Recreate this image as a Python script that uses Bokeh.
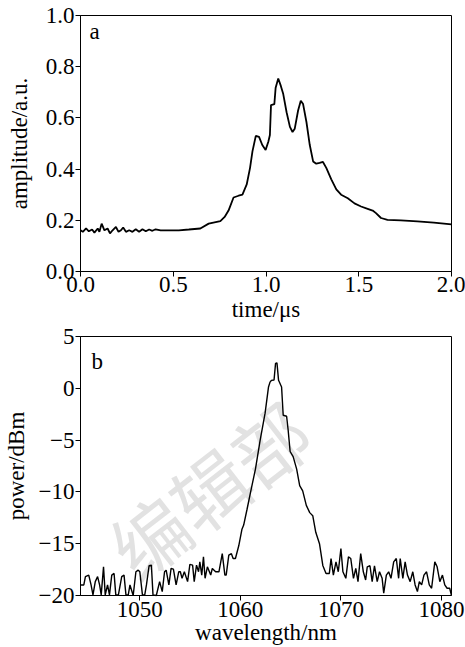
from bokeh.plotting import figure
from bokeh.layouts import column
from bokeh.models import FixedTicker, Label, Range1d
from bokeh.embed import file_html
from bokeh.resources import INLINE

# ---------------- data ----------------
# panel a: pulse waveform
time_us = [0.0, 0.0125, 0.030, 0.045, 0.0625, 0.075, 0.093, 0.102, 0.114, 0.129,
           0.146, 0.159, 0.173, 0.191, 0.205, 0.218, 0.230, 0.245, 0.2625, 0.280,
           0.298, 0.316, 0.334, 0.352, 0.370, 0.3875, 0.405, 0.432, 0.477, 0.530,
           0.584, 0.646, 0.691, 0.754, 0.777, 0.798, 0.825, 0.852, 0.873, 0.896,
           0.914, 0.927, 0.945, 0.9625, 0.98, 0.998, 1.0125, 1.021, 1.027, 1.045,
           1.052, 1.066, 1.080, 1.093, 1.111, 1.129, 1.143, 1.155, 1.173, 1.1875,
           1.2, 1.218, 1.236, 1.254, 1.271, 1.289, 1.307, 1.325, 1.352, 1.379,
           1.405, 1.441, 1.477, 1.5125, 1.548, 1.575, 1.593, 1.62, 1.655, 1.727,
           1.816, 1.905, 2.0]
amplitude = [0.161, 0.155, 0.168, 0.157, 0.164, 0.152, 0.168, 0.155, 0.187, 0.161,
             0.168, 0.149, 0.161, 0.174, 0.155, 0.161, 0.172, 0.155, 0.161, 0.155,
             0.165, 0.155, 0.165, 0.157, 0.164, 0.159, 0.165, 0.161, 0.161, 0.161,
             0.164, 0.168, 0.187, 0.197, 0.213, 0.238, 0.289, 0.296, 0.300, 0.340,
             0.405, 0.469, 0.530, 0.526, 0.494, 0.475, 0.507, 0.533, 0.650, 0.654,
             0.718, 0.754, 0.725, 0.693, 0.622, 0.565, 0.545, 0.558, 0.629, 0.667,
             0.654, 0.584, 0.494, 0.430, 0.421, 0.424, 0.428, 0.405, 0.360, 0.321,
             0.300, 0.286, 0.266, 0.254, 0.245, 0.238, 0.228, 0.209, 0.202, 0.200,
             0.196, 0.191, 0.184]

# panel b: optical spectrum
wavelength_nm = [
    1044.13, 1044.43, 1044.59, 1044.92, 1045.15, 1045.34, 1045.57, 1045.80, 1046.00, 1046.16,
    1046.39, 1046.56, 1046.79, 1046.98, 1047.21, 1047.44, 1047.61, 1047.87, 1048.20, 1048.43,
    1048.62, 1048.85, 1049.02, 1049.34, 1049.61, 1049.84, 1050.00, 1050.26, 1050.49, 1050.66,
    1050.92, 1051.15, 1051.31, 1051.64, 1051.97, 1052.23, 1052.46, 1052.62, 1052.89, 1053.11,
    1053.34, 1053.61, 1053.87, 1054.03, 1054.20, 1054.43, 1054.75, 1054.98, 1055.25, 1055.41,
    1055.64, 1055.84, 1055.97, 1056.16, 1056.33, 1056.49, 1056.72, 1057.05, 1057.21, 1057.54,
    1057.87, 1058.20, 1058.46, 1058.59, 1058.85, 1059.11, 1059.28, 1059.51,
    1059.84, 1060.16, 1060.33, 1060.66, 1061.00, 1061.50, 1061.97, 1062.46, 1062.80, 1062.95,
    1063.10, 1063.35, 1063.50, 1063.64, 1063.80, 1064.10, 1064.26, 1064.60, 1064.75, 1064.95,
    1065.25, 1065.60, 1065.90, 1066.20, 1066.56, 1066.90, 1067.20, 1067.50, 1067.87, 1068.20,
    1068.52, 1068.85, 1069.02, 1069.25, 1069.51, 1069.74, 1070.00, 1070.20, 1070.49, 1070.75,
    1070.98, 1071.25, 1071.48, 1071.70, 1071.97, 1072.23, 1072.46, 1072.62, 1072.89, 1073.11,
    1073.34, 1073.61, 1073.84, 1074.10, 1074.26, 1074.52, 1074.75, 1074.98, 1075.25, 1075.51,
    1075.74, 1075.90, 1076.16, 1076.39, 1076.62, 1076.89, 1077.15, 1077.38, 1077.61, 1077.80,
    1078.03, 1078.26, 1078.52, 1078.79, 1079.02, 1079.34, 1079.57, 1079.84, 1080.10, 1080.33,
    1080.56, 1080.82, 1080.98]
power_dbm = [
    -18.98, -18.98, -18.18, -18.03, -18.98, -19.94, -18.66, -18.18, -18.98, -19.94,
    -17.23, -19.94, -18.98, -19.94, -18.03, -17.87, -19.94, -19.94, -18.18, -18.03,
    -19.94, -19.94, -18.98, -20.00, -17.71, -17.55, -17.71, -19.94, -19.94, -18.98,
    -17.13, -17.07, -19.94, -20.00, -18.66, -19.62, -17.71, -17.55, -18.98, -17.39,
    -17.45, -18.98, -17.71, -17.71, -18.34, -17.71, -18.66, -17.00, -17.07, -18.66,
    -17.07, -17.71, -16.75, -18.03, -16.27, -18.34, -17.23, -18.03, -17.39, -17.71,
    -17.71, -15.96, -18.03, -18.03, -16.11, -15.96, -16.43, -16.43,
    -15.20, -13.60, -13.20, -11.70, -10.10, -7.80, -5.00, -2.40, 0.13, 0.60,
    0.77, 0.80, 2.40, 2.45, 0.77, 0.13, -2.60, -2.70, -4.00, -6.10,
    -6.60, -7.80, -9.40, -9.90, -11.30, -12.00, -12.30, -13.90, -15.00, -17.10,
    -17.87, -17.87, -16.43, -18.03, -16.75, -17.71, -15.48, -17.71, -18.34, -16.27,
    -16.43, -18.34, -17.39, -18.66, -15.96, -17.71, -18.50, -17.23, -17.13, -18.66,
    -17.13, -18.66, -17.71, -18.34, -19.78, -18.03, -17.71, -18.34, -16.75, -16.43,
    -18.34, -16.43, -18.34, -16.75, -18.03, -18.66, -17.71, -18.98, -19.62, -18.66,
    -18.98, -18.03, -17.71, -18.98, -19.30, -16.75, -17.23, -18.66, -18.03, -18.98,
    -19.30, -19.30, -19.94]

a_xticks = [0.0, 0.5, 1.0, 1.5, 2.0]
a_xtick_labels = ["0.0", "0.5", "1.0", "1.5", "2.0"]
a_yticks = [0.0, 0.2, 0.4, 0.6, 0.8, 1.0]
a_ytick_labels = ["0.0", "0.2", "0.4", "0.6", "0.8", "1.0"]
b_xticks = [1050, 1060, 1070, 1080]
b_xtick_labels = ["1050", "1060", "1070", "1080"]
b_yticks = [-20, -15, -10, -5, 0, 5]
b_ytick_labels = ["\u221220", "\u221215", "\u221210", "\u22125", "0", "5"]

FONT = "Liberation Serif"
FS = "23px"


def style_axes(p, xticks, xlabels, yticks, ylabels, xlab, ylab,
               x_lstand, x_astand, y_lstand, y_astand):
    p.xaxis.ticker = FixedTicker(ticks=xticks)
    p.yaxis.ticker = FixedTicker(ticks=yticks)
    p.xaxis.major_label_overrides = {t: s for t, s in zip(xticks, xlabels)}
    p.yaxis.major_label_overrides = {t: s for t, s in zip(yticks, ylabels)}
    p.xaxis.axis_label = xlab
    p.yaxis.axis_label = ylab
    for ax in (p.xaxis[0], p.yaxis[0]):
        ax.major_label_text_font = FONT
        ax.major_label_text_font_size = FS
        ax.major_label_text_color = "black"
        ax.axis_label_text_font = FONT
        ax.axis_label_text_font_size = FS
        ax.axis_label_text_font_style = "normal"
        ax.axis_label_text_color = "black"
        ax.axis_line_color = "black"
        ax.axis_line_width = 1
        ax.major_tick_line_color = "black"
        ax.major_tick_in = 0
        ax.major_tick_out = 5
        ax.minor_tick_line_color = None
    p.xaxis.major_label_standoff = x_lstand
    p.xaxis.axis_label_standoff = x_astand
    p.yaxis.major_label_standoff = y_lstand
    p.yaxis.axis_label_standoff = y_astand
    p.grid.grid_line_color = None
    p.outline_line_color = "black"
    p.outline_line_width = 1
    p.outline_line_alpha = 1
    p.background_fill_color = "white"
    p.border_fill_color = "white"


# ---------------- panel a ----------------
pa = figure(width=465, height=324, output_backend="svg", toolbar_location=None,
            x_range=Range1d(0, 2), y_range=Range1d(0, 1),
            min_border_left=78, min_border_right=14, min_border_top=15,
            min_border_bottom=49)
pa.line(time_us, amplitude, line_color="black", line_width=1.8)
style_axes(pa, a_xticks, a_xtick_labels, a_yticks, a_ytick_labels,
           "time/\u03bcs", "amplitude/a.u.", 0, 2, 1, 11)
pa.add_layout(Label(x=9, y=240, x_units="screen", y_units="screen", text="a",
                    text_font=FONT, text_font_size=FS, text_color="black",
                    text_baseline="alphabetic"))

# ---------------- panel b ----------------
pb = figure(width=465, height=323, output_backend="svg", toolbar_location=None,
            x_range=Range1d(1044.1, 1081.0), y_range=Range1d(-20, 5),
            min_border_left=77, min_border_right=13, min_border_top=12,
            min_border_bottom=50)
pb.add_layout(Label(x=128, y=107, x_units="screen", y_units="screen",
                    text="\u7f16\u8f91\u90e8", text_font="Noto Sans CJK SC",
                    text_font_size="76px", text_color="#e2e2e2",
                    text_align="center", text_baseline="middle", angle=0.66))
spec = pb.line(wavelength_nm, power_dbm, line_color="black", line_width=1.4)
spec.level = "overlay"
style_axes(pb, b_xticks, b_xtick_labels, b_yticks, b_ytick_labels,
           "wavelength/nm", "power/dBm", 1, 0, 1, 7)
pb.add_layout(Label(x=11, y=234, x_units="screen", y_units="screen", text="b",
                    text_font=FONT, text_font_size=FS, text_color="black",
                    text_baseline="alphabetic"))

layout = column(pa, pb, spacing=0)
open("out.html", "w").write(file_html(layout, INLINE))
